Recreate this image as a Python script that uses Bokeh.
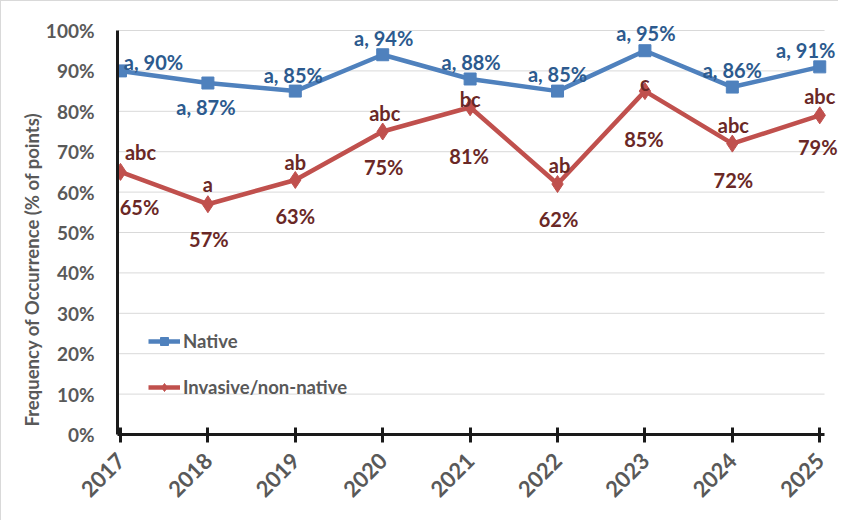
import math
from bokeh.plotting import figure
from bokeh.models import (ColumnDataSource, Range1d, FixedTicker, PrintfTickFormatter,
                          Label, Legend, LegendItem, Title)
from bokeh.embed import file_html
from bokeh.resources import INLINE

# ---- data ----
years = [2017, 2018, 2019, 2020, 2021, 2022, 2023, 2024, 2025]
native = [90, 87, 85, 94, 88, 85, 95, 86, 91]
invasive = [65, 57, 63, 75, 81, 62, 85, 72, 79]
native_letters = ["a", "a", "a", "a", "a", "a", "a", "a", "a"]
invasive_letters = ["abc", "a", "ab", "abc", "bc", "ab", "c", "abc", "abc"]
y_ticks = [0, 10, 20, 30, 40, 50, 60, 70, 80, 90, 100]

# ---- label placement (screen px offsets) ----
nat_dx = [33, -2, -2, 1, 1, 0, 1, 0, -14]
nat_dy = [9, -24, 16, 17, 17, 17, 18, 17, 17]
inv_let_dx = [20, 0, 0, 2, 0, 2, 0, 1, 0]
inv_let_dy = [20, 20, 18, 19, 8, 19, 8, 19, 19]
inv_pct_dx = [19, 1, 0, 1, -1, 1, -1, 1, -2]
inv_pct_dy = [-35, -35, -36, -35, -49, -35, -48, -36, -32]

# ---- axis extents ----
Y_MIN, Y_AXIS_MAX, Y_VIEW_MAX = 0, 100, 107.18
X_START, X_AXIS_END, X_VIEW_END = 2016.9657, 2025.055, 2025.226

FONT = "Lato"
GRAY = "#595959"
BLUE = "#4F81BD"
RED = "#C0504D"
BLUE_TXT = "#2C5A8E"
RED_TXT = "#6A2826"
AXIS = "#1a1a1a"

src = ColumnDataSource(dict(x=years, nat=native, inv=invasive))
grid_src = ColumnDataSource(dict(y=y_ticks,
                                 x0=[X_START] * len(y_ticks),
                                 x1=[X_AXIS_END] * len(y_ticks)))

p = figure(output_backend="svg", toolbar_location=None,
           width=838, height=520,
           min_border_left=116, min_border_right=0,
           min_border_top=0, min_border_bottom=87,
           x_range=Range1d(X_START, X_VIEW_END), y_range=Range1d(Y_MIN, Y_VIEW_MAX))
p.background_fill_color = "white"
p.border_fill_color = "white"
p.outline_line_color = None
p.xgrid.visible = False
p.ygrid.visible = False

# horizontal gridlines limited to the axis extent
p.segment(x0="x0", y0="y", x1="x1", y1="y", source=grid_src,
          line_color="#D9D9D9", line_width=1)

# y axis
ya = p.yaxis[0]
ya.bounds = (Y_MIN, Y_AXIS_MAX)
ya.ticker = FixedTicker(ticks=y_ticks)
ya.formatter = PrintfTickFormatter(format="%d%%")
ya.axis_line_color = AXIS
ya.axis_line_width = 3
ya.major_tick_in = 0
ya.major_tick_out = 0
ya.minor_tick_line_color = None
ya.major_label_standoff = 23
ya.major_label_text_font = FONT
ya.major_label_text_font_style = "bold"
ya.major_label_text_font_size = "19px"
ya.major_label_text_color = GRAY

# y axis title, placed like the original (starting near the bottom of the axis)
ytitle = Title(text="Frequency of Occurrence (% of points)", align="left", offset=8,
               text_font=FONT, text_font_style="bold", text_font_size="18.5px",
               text_color=GRAY, standoff=0)
p.add_layout(ytitle, "left")

# x axis
xa = p.xaxis[0]
xa.bounds = (X_START, X_AXIS_END)
xa.ticker = FixedTicker(ticks=years)
xa.axis_line_color = AXIS
xa.axis_line_width = 3
xa.major_tick_line_color = AXIS
xa.major_tick_line_width = 3
xa.major_tick_in = 7
xa.major_tick_out = 8
xa.minor_tick_line_color = None
xa.major_label_orientation = math.pi / 4
xa.major_label_standoff = 14
xa.major_label_text_font = FONT
xa.major_label_text_font_style = "bold"
xa.major_label_text_font_size = "22px"
xa.major_label_text_color = GRAY

# series
nl = p.line("x", "nat", source=src, line_color=BLUE, line_width=4.5)
ns = p.scatter("x", "nat", source=src, marker="square", size=12,
               fill_color=BLUE, line_color=BLUE)
il = p.line("x", "inv", source=src, line_color=RED, line_width=4.5)
iscat = p.scatter("x", "inv", source=src, marker="diamond", size=17,
                  fill_color=RED, line_color=RED)

# data labels
def add_label(x, y, text, dx, dy, color):
    p.add_layout(Label(x=x, y=y, text=text, x_offset=dx, y_offset=dy,
                       x_units="data", y_units="data",
                       text_font=FONT, text_font_style="bold", text_font_size="20px",
                       text_color=color, text_align="center", text_baseline="alphabetic"))

for i, yr in enumerate(years):
    add_label(yr, native[i], f"{native_letters[i]}, {native[i]}%", nat_dx[i], nat_dy[i], BLUE_TXT)
    add_label(yr, invasive[i], invasive_letters[i], inv_let_dx[i], inv_let_dy[i], RED_TXT)
    add_label(yr, invasive[i], f"{invasive[i]}%", inv_pct_dx[i], inv_pct_dy[i], RED_TXT)

legend = Legend(items=[LegendItem(label="Native", renderers=[nl, ns]),
                       LegendItem(label="Invasive/non-native", renderers=[il, iscat])],
                location=(31, 36))
legend.background_fill_alpha = 0
legend.border_line_color = None
legend.padding = 0
legend.margin = 0
legend.spacing = 24
legend.glyph_width = 32
legend.glyph_height = 20
legend.label_height = 20
legend.label_standoff = 3
legend.label_text_font = FONT
legend.label_text_font_style = "bold"
legend.label_text_font_size = "18.5px"
legend.label_text_color = GRAY
p.add_layout(legend)

p.styles = {"border-left": "1px solid #D9D9D9", "border-top": "1px solid #D9D9D9"}

open("out.html", "w").write(file_html(p, INLINE))
